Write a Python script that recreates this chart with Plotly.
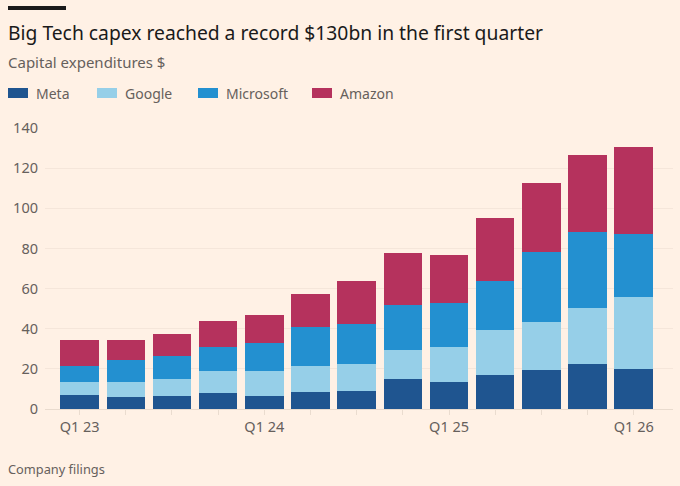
import plotly.graph_objects as go

QUARTERS = ['Q1 23', 'Q2 23', 'Q3 23', 'Q4 23', 'Q1 24', 'Q2 24', 'Q3 24',
            'Q4 24', 'Q1 25', 'Q2 25', 'Q3 25', 'Q4 25', 'Q1 26']
TICK_TEXT = ['Q1 23', '', '', '', 'Q1 24', '', '', '', 'Q1 25', '', '', '', 'Q1 26']

# capex, $bn
META = [7.1, 6.2, 6.6, 7.9, 6.6, 8.4, 9.2, 14.8, 13.7, 17.0, 19.5, 22.3, 19.8]
GOOGLE = [6.4, 7.1, 8.4, 11.1, 12.2, 13.2, 13.3, 14.5, 17.2, 22.6, 24.0, 28.0, 35.8]
MICROSOFT = [8.0, 11.0, 11.3, 11.7, 14.1, 19.3, 20.0, 22.7, 21.7, 24.0, 34.9, 37.7, 31.7]
AMAZON = [12.9, 10.1, 11.1, 13.2, 13.8, 16.2, 21.1, 25.7, 23.9, 31.5, 34.3, 38.5, 43.4]

BG = '#fff1e5'
GREY = '#66605c'
FONT = 'Noto Sans'

W, H = 680, 486
ML, MR, MT, MB = 45, 7, 128, 77
PW, PH = W - ML - MR, H - MT - MB


def px(x):
    return (x - ML) / PW


def py(y):
    return (H - MB - y) / PH


series = [
    ('Meta', META, '#1f5590'),
    ('Google', GOOGLE, '#96cfe8'),
    ('Microsoft', MICROSOFT, '#2390d0'),
    ('Amazon', AMAZON, '#b5325d'),
]

fig = go.Figure()
for name, vals, color in series:
    fig.add_trace(go.Bar(x=list(range(len(QUARTERS))), y=vals, name=name,
                         marker=dict(color=color, line=dict(width=0)),
                         hovertext=QUARTERS))

fig.update_layout(
    barmode='stack',
    bargap=0.166,
    width=W, height=H,
    paper_bgcolor=BG, plot_bgcolor=BG,
    margin=dict(l=ML, r=MR, t=MT, b=MB),
    font=dict(family=FONT, color=GREY, size=14),
    showlegend=False,
    xaxis=dict(tickvals=list(range(len(QUARTERS))), ticktext=TICK_TEXT,
               range=[-0.75, 12.85], showgrid=False, zeroline=False,
               ticks='outside', ticklen=5, tickcolor='#eadccf',
               tickfont=dict(size=14.5, color=GREY), showline=False),
    yaxis=dict(range=[0, 140], dtick=20, showgrid=True, gridcolor='#f5e6da',
               zeroline=True, zerolinecolor='#e9dbce', zerolinewidth=1,
               tickfont=dict(size=14.5, color=GREY), ticks='', ticklabelstandoff=6),
)

texts = [
    ('Big Tech capex reached a record $130bn in the first quarter', 32, 19.3, '#1a1a1a'),
    ('Capital expenditures $', 62, 15, GREY),
    ('Company filings', 469, 12.8, GREY),
]
for t, ypx, size, color in texts:
    fig.add_annotation(text=t, xref='paper', yref='paper', x=px(6), y=py(ypx),
                       xanchor='left', yanchor='middle', showarrow=False,
                       font=dict(size=size, color=color, family=FONT))

# black bar above the title
fig.add_shape(type='rect', xref='paper', yref='paper', x0=px(8), x1=px(66),
              y0=py(10), y1=py(6), fillcolor='#1a1a1a', line=dict(width=0))

# legend row drawn by hand: wide swatches like the original
legend_x = [8, 97, 198, 312]
for (name, _, color), lx in zip(series, legend_x):
    fig.add_shape(type='rect', xref='paper', yref='paper', x0=px(lx), x1=px(lx + 20),
                  y0=py(98), y1=py(88), fillcolor=color, line=dict(width=0))
    fig.add_annotation(text=name, xref='paper', yref='paper', x=px(lx + 26), y=py(93),
                       xanchor='left', yanchor='middle', showarrow=False,
                       font=dict(size=14, color=GREY, family=FONT))

fig.write_html('out.html', config={'displayModeBar': False},
               post_script="document.body.style.margin='0';")
